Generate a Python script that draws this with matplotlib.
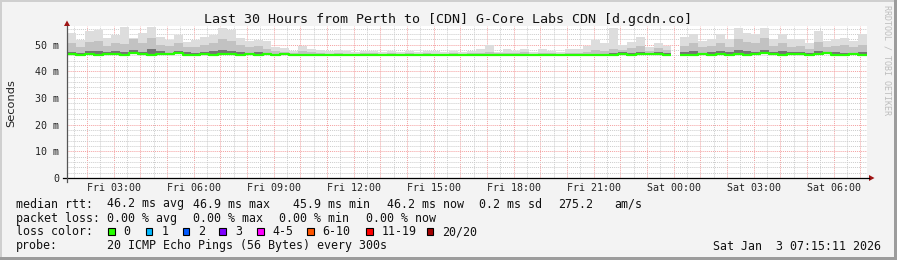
import matplotlib
matplotlib.use("Agg")
import matplotlib.pyplot as plt
from matplotlib.patches import Rectangle, Polygon
from matplotlib.lines import Line2D
import numpy as np

W, H = 897, 260
MONO = "DejaVu Sans Mono"

# 20-minute bins from Fri 01:15:11 (hours since Fri 00:00) to Sat 07:15:11
start_h = 1 + 15 / 60 + 11 / 3600
bin_h = 1 / 3
nan = np.nan

median_ms = [
    46.4, 46.2, 46.5, 46.3, 46.6, 46.4, 46.3, 46.7, 46.5, 46.3,
    46.6, 46.4, 46.8, 46.3, 46.2, 46.5, 46.3, 46.6, 46.4, 46.2,
    46.5, 46.3, 46.4, 46.2, 46.4, 46.1, 46.1, 46.0, 46.0, 46.1,
    46.0, 46.0, 46.0, 46.0, 46.0, 46.0, 46.0, 46.0, 46.0, 46.0,
    46.0, 46.0, 46.0, 46.0, 46.0, 46.0, 46.0, 46.0, 46.0, 46.0,
    46.0, 46.0, 46.0, 46.0, 46.0, 46.0, 46.0, 46.0, 46.1, 46.0,
    46.0, 46.1, 46.6, 46.3, 46.5, 46.6, 46.4, 46.2, nan, 46.1,
    46.3, 46.6, 46.2, 46.4, 46.3, 46.6, 46.2, 46.5, 46.8, 46.4,
    46.3, 46.6, 46.5, 46.2, 46.4, 46.7, 46.3, 46.2, 46.5, 46.3,
]
q3_ms = [
    47.3, 46.9, 47.5, 47.8, 47.1, 47.6, 47.4, 48.0, 47.3, 48.2,
    47.5, 47.0, 47.7, 47.1, 46.9, 47.4, 47.5, 48.1, 47.8, 47.2,
    47.0, 47.1, 46.8, 46.6, 46.6, 46.5, 46.4, 46.3, 46.3, 46.3,
    46.3, 46.3, 46.3, 46.3, 46.3, 46.3, 46.3, 46.3, 46.3, 46.3,
    46.3, 46.3, 46.3, 46.3, 46.3, 46.3, 46.3, 46.3, 46.3, 46.3,
    46.3, 46.3, 46.3, 46.3, 46.3, 46.3, 46.3, 46.3, 46.4, 46.4,
    46.4, 46.7, 47.3, 47.0, 47.4, 46.9, 47.1, 46.8, nan, 47.1,
    47.5, 47.0, 47.3, 47.7, 47.1, 47.9, 47.5, 47.4, 48.0, 47.2,
    47.6, 47.1, 47.3, 47.0, 47.5, 47.1, 47.2, 47.0, 46.9, 47.3,
]
p90_ms = [
    50.5, 49.2, 51.0, 51.5, 49.5, 50.8, 50.2, 52.0, 50.5, 52.5,
    50.0, 49.5, 50.8, 49.2, 49.0, 50.0, 50.5, 52.0, 51.5, 49.8,
    49.0, 49.5, 48.5, 47.6, 47.3, 47.0, 47.5, 47.2, 46.8, 46.6,
    46.9, 46.6, 46.6, 46.8, 46.7, 46.6, 46.8, 46.6, 46.9, 46.6,
    46.7, 46.6, 46.6, 46.8, 46.6, 46.7, 47.0, 47.2, 46.7, 47.0,
    46.7, 47.1, 46.6, 46.9, 46.7, 46.6, 46.9, 47.0, 47.4, 48.0,
    47.5, 48.5, 48.0, 48.6, 49.5, 47.8, 48.6, 48.0, nan, 49.5,
    50.5, 49.2, 49.5, 50.8, 49.0, 52.0, 51.0, 50.5, 52.5, 49.5,
    50.5, 49.2, 49.5, 48.5, 51.0, 49.0, 49.5, 49.8, 49.0, 50.0,
]
max_ms = [
    54.4, 51.9, 55.0, 55.6, 52.5, 53.7, 56.5, 52.5, 54.4, 56.5,
    53.0, 51.9, 53.7, 51.0, 51.9, 52.9, 53.7, 56.4, 55.5, 52.5,
    51.5, 51.9, 51.2, 49.0, 48.9, 47.6, 49.5, 48.5, 48.0, 47.5,
    48.0, 47.6, 47.2, 47.5, 47.8, 47.2, 47.6, 47.3, 47.8, 47.2,
    47.5, 47.6, 47.3, 47.8, 47.2, 47.6, 48.2, 50.0, 47.4, 48.3,
    47.5, 48.5, 47.4, 48.2, 47.6, 47.4, 48.2, 48.5, 49.5, 51.9,
    50.5, 56.3, 50.0, 51.0, 53.0, 49.0, 50.6, 49.5, nan, 52.8,
    54.0, 51.5, 52.0, 54.0, 52.0, 56.3, 54.4, 54.0, 56.3, 52.0,
    54.0, 52.0, 52.0, 50.5, 55.0, 51.5, 52.0, 52.5, 51.5, 54.0,
]

tick_hours = [3, 6, 9, 12, 15, 18, 21, 24, 27, 30]
tick_labels = ["Fri 03:00", "Fri 06:00", "Fri 09:00", "Fri 12:00", "Fri 15:00",
               "Fri 18:00", "Fri 21:00", "Sat 00:00", "Sat 03:00", "Sat 06:00"]
y_ticks = [0, 10, 20, 30, 40, 50]
y_labels = ["0", "10 m", "20 m", "30 m", "40 m", "50 m"]

rtt_texts = ["median rtt:", "46.2 ms avg", "46.9 ms max", "45.9 ms min",
             "46.2 ms now", "0.2 ms sd", "275.2", "am/s"]
loss_texts = ["packet loss:", "0.00 % avg", "0.00 % max", "0.00 % min", "0.00 % now"]
loss_labels = ["0", "1", "2", "3", "4-5", "6-10", "11-19", "20/20"]
loss_colors = ["#26ff00", "#00b8ff", "#0059ff", "#7e00ff", "#ff00ff",
               "#ff5500", "#ff0000", "#a10000"]


def fx(x):
    return x / W


def fy(y):
    return 1 - y / H


fig = plt.figure(figsize=(W / 100, H / 100), dpi=100, facecolor="#f3f3f3")

# 3d-ish frame
fig.add_artist(Rectangle((0, fy(2)), 1, 2 / H, color="#cfcfcf", lw=0))
fig.add_artist(Rectangle((0, 0), 2 / W, 1, color="#cfcfcf", lw=0))
fig.add_artist(Rectangle((fx(894), 0), 3 / W, 1, color="#9c9c9c", lw=0))
fig.add_artist(Rectangle((0, 0), 1, 3 / H, color="#9c9c9c", lw=0))

ax = fig.add_axes([fx(67), fy(178), 800 / W, 152 / H])
ax.set_facecolor("white")
ax.set_xlim(start_h, start_h + 30)
ax.set_ylim(0, 57)
for s in ax.spines.values():
    s.set_visible(False)

# grid
for h in np.arange(1.5, 31.5, 1.0):
    ax.axvline(h, color="#cccccc", lw=0.7, ls=(0, (1, 1)), zorder=0)
for h in np.arange(2, 32):
    ax.axvline(h, color="#f4a0a0", lw=0.7, ls=(0, (1, 1)), zorder=0)
for v in np.arange(2, 57, 2):
    c = "#f4a0a0" if v % 10 == 0 else "#cccccc"
    ax.axhline(v, color=c, lw=0.7, ls=(0, (1, 1)), zorder=0)

# smoke + median
edges = start_h + bin_h * np.arange(len(median_ms) + 1)
xs = np.repeat(edges, 2)[1:-1]


def steps(v):
    return np.repeat(np.asarray(v, float), 2)


base = steps(median_ms)
ax.fill_between(xs, base, steps(max_ms), color="#dddddd", lw=0, zorder=1)
ax.fill_between(xs, base, steps(p90_ms), color="#c2c2c2", lw=0, zorder=2)
ax.fill_between(xs, base, steps(q3_ms), color="#747474", lw=0, zorder=3)
ax.plot(xs, base, color="#26ff00", lw=1.6, zorder=4, solid_capstyle="butt")

ax.set_xticks(tick_hours, tick_labels, fontfamily=MONO, fontsize=7.2)
ax.set_yticks(y_ticks, y_labels, fontfamily=MONO, fontsize=7.2)
ax.tick_params(axis="x", length=0, pad=3.5, colors="#222222")
ax.tick_params(axis="y", length=0, pad=5.5, colors="#222222")

# axes lines with arrows
fig.add_artist(Line2D([fx(63), fx(869)], [fy(178), fy(178)], color="black", lw=0.9))
fig.add_artist(Polygon([(fx(869), fy(175)), (fx(874.5), fy(178)), (fx(869), fy(181))],
                       closed=True, color="#a01414", lw=0))
fig.add_artist(Line2D([fx(67), fx(67)], [fy(182), fy(26)], color="#555555", lw=0.9))
fig.add_artist(Polygon([(fx(64), fy(26)), (fx(67), fy(20.5)), (fx(70), fy(26))],
                       closed=True, color="#a01414", lw=0))

# texts
fig.text(fx(447.5), fy(19.3), "Last 30 Hours from Perth to [CDN] G-Core Labs CDN [d.gcdn.co]",
         fontfamily=MONO, fontsize=9.6, ha="center", va="center", color="#111111")
fig.text(fx(11), fy(103), "Seconds", fontsize=8.2, rotation=90,
         ha="center", va="center", color="#222222")
fig.text(fx(887), fy(60), "RRDTOOL / TOBI OETIKER", fontfamily=MONO, fontsize=6,
         rotation=270, ha="center", va="center", color="#bdbdbd")

LEG = dict(fontfamily=MONO, fontsize=8.4, va="center", ha="left", color="#111111")
for t, x in zip(rtt_texts, [16, 107.3, 193.3, 293.3, 386.7, 479.3, 558.3, 614]):
    fig.text(fx(x), fy(204), t, **LEG)
for t, x in zip(loss_texts, [16, 107.3, 193.3, 279.3, 365.7]):
    fig.text(fx(x), fy(218.3), t, **LEG)
fig.text(fx(16), fy(231.7), "loss color:", **LEG)
for lab, col, x in zip(loss_labels, loss_colors,
                       [108, 145.7, 182.7, 219.3, 257, 307, 366, 426.7]):
    fig.add_artist(Rectangle((fx(x), fy(234.5)), 6.5 / W, 6.5 / H,
                             facecolor=col, edgecolor="black", lw=0.8))
    fig.text(fx(x + 15.5), fy(231.7), lab, **LEG)
fig.text(fx(16), fy(246), "probe:", **LEG)
fig.text(fx(107.3), fy(246), "20 ICMP Echo Pings (56 Bytes) every 300s", **LEG)
fig.text(fx(881), fy(246), "Sat Jan  3 07:15:11 2026",
         **{**LEG, "ha": "right"})

fig.savefig("out.png", dpi=100, facecolor=fig.get_facecolor())
